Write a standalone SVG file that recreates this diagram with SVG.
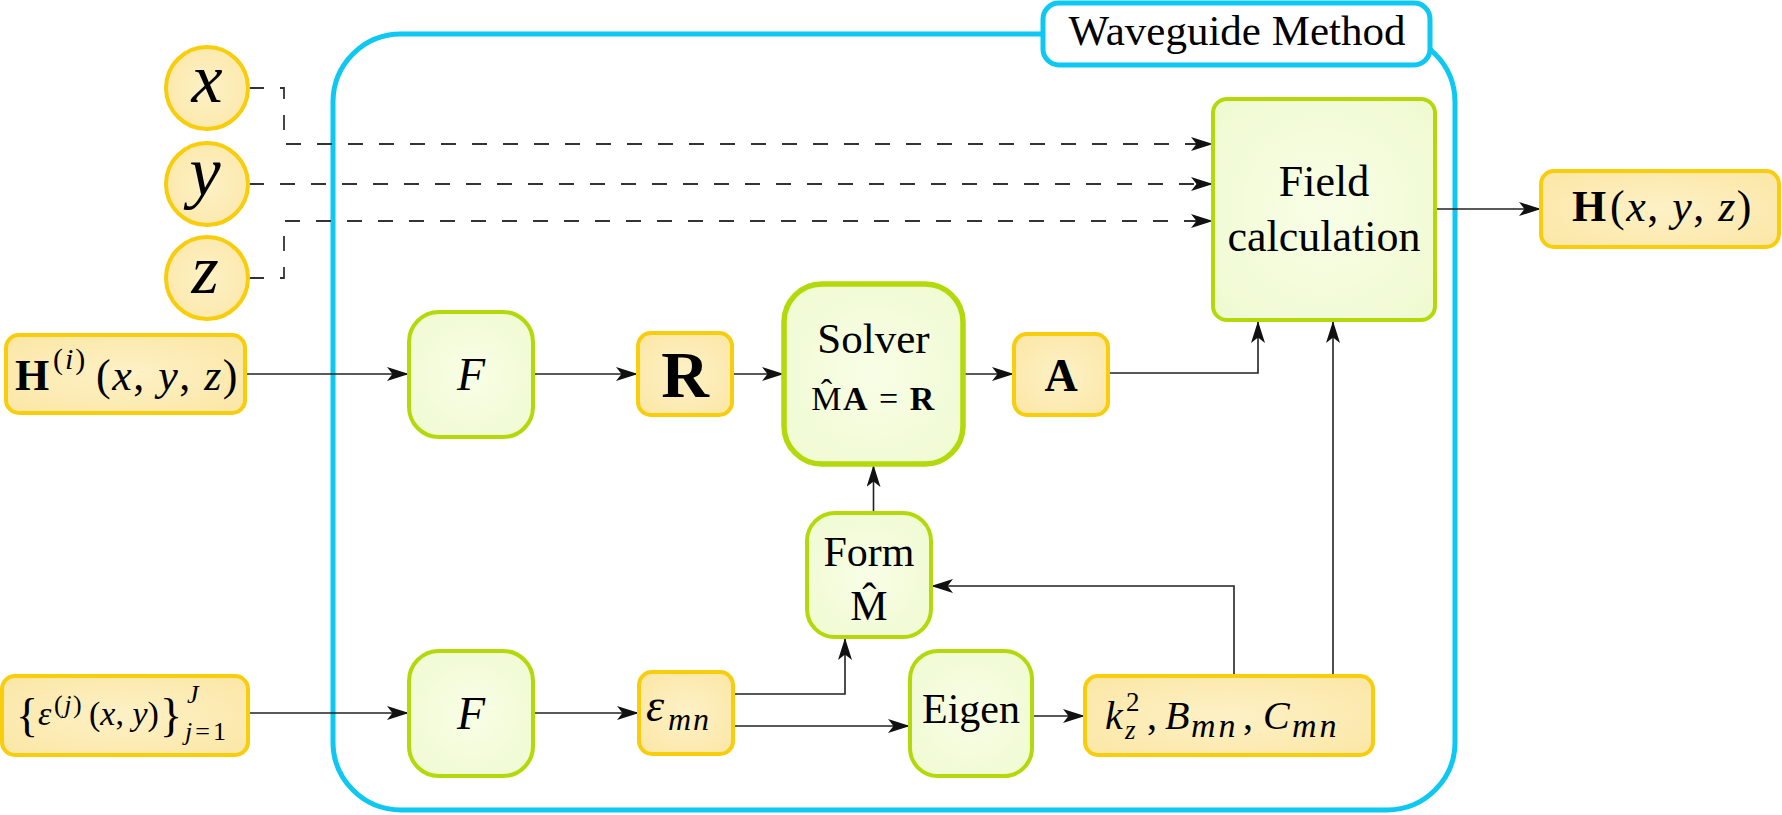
<svg xmlns="http://www.w3.org/2000/svg" width="1782" height="815" viewBox="0 0 1782 815">
<defs>
<radialGradient id="gy" cx="50%" cy="50%" r="70%">
<stop offset="0" stop-color="#FDF1C6"/>
<stop offset="1" stop-color="#FBE6A4"/>
</radialGradient>
<radialGradient id="gg" cx="50%" cy="50%" r="70%">
<stop offset="0" stop-color="#F8FEE6"/>
<stop offset="1" stop-color="#EFFAD0"/>
</radialGradient>
<marker id="arr" viewBox="0 0 22 14" refX="22" refY="7" markerWidth="22" markerHeight="14" orient="auto" markerUnits="userSpaceOnUse">
<path d="M0,0 L22,7 L0,14 L5.5,7 z" fill="#111"/>
</marker>
</defs>
<style>
.y{fill:url(#gy);stroke:#F7CD0C;stroke-width:4}
.g{fill:url(#gg);stroke:#B3D90A;stroke-width:4}
.c{fill:none;stroke:#222;stroke-width:1.6;marker-end:url(#arr)}
.d{stroke:#333;stroke-width:1.8;stroke-dasharray:15 16}
.t{font-family:"Liberation Serif","Times New Roman",serif;fill:#000}
.i{font-style:italic}
.b{font-weight:bold}
</style>
<rect x="1" y="1" width="1780" height="813" fill="#fff" stroke="none"/>
<g id="waveguide-frame">
<rect x="333" y="34" width="1122" height="776" rx="68" fill="none" stroke="#0DC8F2" stroke-width="5"/>
</g>
<g id="connectors">
<path class="c d" d="M249,88 H284 V144 H1213"/>
<path class="c d" d="M249,184 H1213"/>
<path class="c d" d="M249,278 H284 V221 H1213"/>
<path class="c" d="M247,374 H409"/>
<path class="c" d="M533,374 H638"/>
<path class="c" d="M732,374 H784"/>
<path class="c" d="M963,374 H1014"/>
<path class="c" d="M1108,373 H1258 V321"/>
<path class="c" d="M1333,676 V321"/>
<path class="c" d="M1234,676 V586 H931"/>
<path class="c" d="M873.5,513 V465"/>
<path class="c" d="M248,713 H409"/>
<path class="c" d="M533,713 H639"/>
<path class="c" d="M733,694 H845 V638"/>
<path class="c" d="M733,726 H910"/>
<path class="c" d="M1032,716 H1085"/>
<path class="c" d="M1435,209 H1541"/>
</g>
<g id="label-waveguide">
<rect x="1043" y="3" width="387" height="62" rx="16" fill="#fff" stroke="#0DC8F2" stroke-width="5"/>
<text class="t" x="1237" y="45" font-size="43" text-anchor="middle">Waveguide Method</text>
</g>
<g id="node-x">
<circle class="y" cx="207" cy="88" r="41"/>
<text class="t i" x="207" y="102" font-size="70" text-anchor="middle">x</text>
</g>
<g id="node-y">
<circle class="y" cx="207" cy="184" r="41"/>
<text class="t i" x="205" y="195" font-size="70" text-anchor="middle">y</text>
</g>
<g id="node-z">
<circle class="y" cx="207" cy="278" r="41"/>
<text class="t i" x="205" y="293" font-size="70" text-anchor="middle">z</text>
</g>
<g id="node-Hi">
<rect class="y" x="6" y="335" width="239" height="78" rx="13"/>
<text class="t" font-size="44"><tspan class="b" x="15" y="390">H</tspan><tspan x="53" y="369" font-size="30" letter-spacing="2">(<tspan class="i">i</tspan>)</tspan><tspan x="96" y="390" letter-spacing="1.5">(<tspan class="i">x</tspan>, <tspan class="i">y</tspan>, <tspan class="i">z</tspan>)</tspan></text>
</g>
<g id="node-F1">
<rect class="g" x="409" y="312" width="124" height="125" rx="30"/>
<text class="t i" x="471" y="390" font-size="46" text-anchor="middle">F</text>
</g>
<g id="node-R">
<rect class="y" x="638" y="333" width="94" height="82" rx="13"/>
<text class="t b" x="685" y="397" font-size="66" text-anchor="middle">R</text>
</g>
<g id="node-solver">
<rect x="784" y="284" width="179" height="180" rx="38" fill="url(#gg)" stroke="#B3D90A" stroke-width="5.5"/>
<text class="t" x="873.5" y="353" font-size="43" text-anchor="middle">Solver</text>
<text class="t" x="873.5" y="410" font-size="34" text-anchor="middle" letter-spacing="1.5">M̂<tspan class="b">A</tspan> = <tspan class="b">R</tspan></text>
</g>
<g id="node-A">
<rect class="y" x="1014" y="334" width="94" height="81" rx="13"/>
<text class="t b" x="1061" y="391" font-size="46" text-anchor="middle">A</text>
</g>
<g id="node-field">
<rect class="g" x="1213" y="99" width="222" height="221" rx="14"/>
<text class="t" x="1324" y="196" font-size="44" text-anchor="middle">Field</text>
<text class="t" x="1324" y="251" font-size="44" text-anchor="middle">calculation</text>
</g>
<g id="node-Hout">
<rect class="y" x="1541" y="171" width="238" height="76" rx="13"/>
<text class="t" font-size="44"><tspan class="b" x="1572" y="221">H</tspan><tspan x="1610" y="221" letter-spacing="1.5">(<tspan class="i">x</tspan>, <tspan class="i">y</tspan>, <tspan class="i">z</tspan>)</tspan></text>
</g>
<g id="node-form">
<rect class="g" x="807" y="513" width="124" height="124" rx="28"/>
<text class="t" x="869" y="566" font-size="42" text-anchor="middle">Form</text>
<text class="t" x="869" y="620" font-size="42" text-anchor="middle">M̂</text>
</g>
<g id="node-eps-input">
<rect class="y" x="2" y="676" width="246" height="79" rx="13"/>
<text class="t" font-size="34"><tspan x="16" y="731" font-size="46">{</tspan><tspan class="i" x="38" y="725">ε</tspan><tspan x="54" y="713" font-size="26" letter-spacing="1.5">(<tspan class="i">j</tspan>)</tspan><tspan x="89" y="725">(<tspan class="i">x</tspan>, <tspan class="i">y</tspan>)</tspan><tspan x="160" y="731" font-size="46">}</tspan><tspan class="i" x="187" y="703" font-size="26">J</tspan><tspan x="185" y="740" font-size="26" letter-spacing="3"><tspan class="i">j</tspan>=1</tspan></text>
</g>
<g id="node-F2">
<rect class="g" x="409" y="651" width="124" height="125" rx="30"/>
<text class="t i" x="471" y="729" font-size="46" text-anchor="middle">F</text>
</g>
<g id="node-eps-mn">
<rect class="y" x="639" y="672" width="94" height="82" rx="13"/>
<text class="t i" font-size="46"><tspan x="646" y="721">ε</tspan><tspan x="668" y="730" font-size="32" letter-spacing="2">mn</tspan></text>
</g>
<g id="node-eigen">
<rect class="g" x="910" y="651" width="122" height="125" rx="28"/>
<text class="t" x="971" y="723" font-size="42" text-anchor="middle">Eigen</text>
</g>
<g id="node-k">
<rect class="y" x="1085" y="676" width="288" height="79" rx="13"/>
<text class="t" font-size="40"><tspan class="i" x="1105" y="729">k</tspan><tspan x="1126" y="711" font-size="27">2</tspan><tspan class="i" x="1125" y="739" font-size="27">z</tspan><tspan x="1147" y="729">,</tspan><tspan class="i" x="1165" y="729">B</tspan><tspan class="i" x="1191" y="737" font-size="34" letter-spacing="3">mn</tspan><tspan x="1243" y="729">,</tspan><tspan class="i" x="1263" y="729">C</tspan><tspan class="i" x="1292" y="737" font-size="34" letter-spacing="3">mn</tspan></text>
</g>
</svg>
